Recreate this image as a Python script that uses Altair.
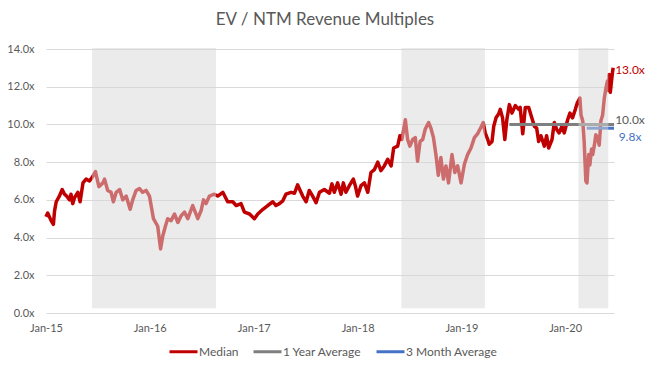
import altair as alt
import pandas as pd

# ---------------- data ----------------
median_dates = [
    "2015-01-01", "2015-01-07", "2015-01-19", "2015-01-27", "2015-01-31", "2015-02-06", "2015-02-17",
    "2015-02-27", "2015-03-07", "2015-03-15", "2015-03-25", "2015-03-30", "2015-04-05", "2015-04-11",
    "2015-04-23", "2015-05-01", "2015-05-11", "2015-05-22", "2015-06-03", "2015-06-15", "2015-06-24",
    "2015-07-06", "2015-07-20", "2015-07-26", "2015-08-06", "2015-08-18", "2015-08-26", "2015-09-05",
    "2015-09-17", "2015-09-28", "2015-10-10", "2015-10-24", "2015-11-02", "2015-11-14", "2015-11-26",
    "2015-12-07", "2015-12-19", "2015-12-31", "2016-01-14", "2016-01-29", "2016-02-08", "2016-02-16",
    "2016-02-25", "2016-03-04", "2016-03-16", "2016-03-28", "2016-04-09", "2016-04-20", "2016-05-02",
    "2016-05-14", "2016-05-31", "2016-06-18", "2016-06-30", "2016-07-08", "2016-07-17", "2016-07-29",
    "2016-08-15", "2016-08-27", "2016-09-14", "2016-10-01", "2016-10-19", "2016-10-31", "2016-11-17",
    "2016-11-29", "2016-12-17", "2017-01-03", "2017-01-15", "2017-02-02", "2017-02-19", "2017-03-09",
    "2017-03-20", "2017-04-01", "2017-04-13", "2017-04-24", "2017-05-12", "2017-05-24", "2017-06-04",
    "2017-06-13", "2017-06-22", "2017-07-04", "2017-07-15", "2017-07-27", "2017-08-08", "2017-08-20",
    "2017-09-06", "2017-09-24", "2017-10-03", "2017-10-11", "2017-10-23", "2017-11-04", "2017-11-12",
    "2017-11-21", "2017-12-03", "2017-12-17", "2017-12-24", "2018-01-01", "2018-01-13", "2018-01-25",
    "2018-02-06", "2018-02-17", "2018-03-01", "2018-03-13", "2018-03-24", "2018-04-05", "2018-04-17",
    "2018-04-29", "2018-05-08", "2018-05-22", "2018-05-30", "2018-06-06", "2018-06-18", "2018-06-26",
    "2018-07-04", "2018-07-14", "2018-07-23", "2018-07-31", "2018-08-09", "2018-08-18", "2018-08-27",
    "2018-09-08", "2018-09-16", "2018-09-25", "2018-10-04", "2018-10-12", "2018-10-21", "2018-10-30",
    "2018-11-08", "2018-11-17", "2018-11-29", "2018-12-09", "2018-12-19", "2018-12-31", "2019-01-12",
    "2019-01-23", "2019-02-04", "2019-02-16", "2019-02-27", "2019-03-11", "2019-03-19", "2019-03-26",
    "2019-04-04", "2019-04-09", "2019-04-19", "2019-04-25", "2019-05-03", "2019-05-12", "2019-05-18",
    "2019-05-26", "2019-06-03", "2019-06-10", "2019-06-19", "2019-06-28", "2019-07-10", "2019-07-22",
    "2019-07-27", "2019-08-05", "2019-08-14", "2019-08-26", "2019-09-04", "2019-09-15", "2019-09-23",
    "2019-09-30", "2019-10-08", "2019-10-20", "2019-10-28", "2019-11-04", "2019-11-16", "2019-11-24",
    "2019-12-02", "2019-12-11", "2019-12-21", "2019-12-29", "2020-01-10", "2020-01-18", "2020-01-27",
    "2020-02-06", "2020-02-13", "2020-02-22", "2020-02-26", "2020-03-03", "2020-03-08", "2020-03-14",
    "2020-03-18", "2020-03-24", "2020-03-28", "2020-04-03", "2020-04-07", "2020-04-13", "2020-04-18",
    "2020-04-24", "2020-04-30", "2020-05-06", "2020-05-12", "2020-05-18", "2020-05-24", "2020-05-29",
    "2020-06-02", "2020-06-04", "2020-06-08", "2020-06-13", "2020-06-16", "2020-06-18",
]
median_values = [
    5.1, 5.3, 4.9, 4.7, 5.4, 5.9, 6.2,
    6.55, 6.3, 6.2, 6.0, 6.3, 5.8, 6.1,
    6.4, 5.9, 6.9, 7.1, 7.0, 7.25, 7.5,
    6.7, 6.9, 7.1, 6.5, 6.4, 5.9, 6.4,
    6.55, 6.0, 6.2, 5.5, 6.0, 6.5, 6.6,
    6.4, 6.5, 6.2, 5.0, 4.6, 3.4, 4.1,
    4.6, 5.0, 4.9, 5.25, 4.8, 5.15, 5.35,
    5.0, 5.7, 5.0, 5.45, 6.0, 5.8, 6.2,
    6.3, 6.2, 6.4, 5.9, 5.9, 5.7, 5.8,
    5.35, 5.25, 5.0, 5.25, 5.5, 5.7, 5.9,
    5.7, 5.8, 5.95, 6.3, 6.4, 6.35, 6.8,
    6.5, 6.2, 5.9, 6.5, 6.2, 5.85, 6.4,
    6.55, 6.35, 6.85, 6.4, 6.9, 6.3, 6.9,
    6.4, 6.75, 7.1, 6.75, 6.2, 6.75, 6.9,
    6.4, 7.45, 7.6, 8.0, 7.55, 7.8, 8.15,
    7.8, 8.75, 8.85, 9.4, 9.2, 10.25, 9.2,
    8.85, 9.2, 9.3, 8.05, 9.1, 9.2, 9.75,
    10.1, 9.8, 9.3, 8.35, 7.3, 8.25, 7.1,
    7.8, 6.9, 8.4, 7.45, 7.8, 6.9, 7.9,
    8.4, 8.75, 9.3, 9.5, 9.85, 10.1, 9.55,
    9.2, 8.95, 9.1, 9.9, 10.35, 10.55, 10.8,
    10.35, 9.2, 10.25, 11.05, 10.6, 11.0, 10.8,
    10.9, 9.5, 10.9, 10.9, 10.45, 9.9, 9.8,
    9.1, 9.4, 8.85, 9.4, 8.75, 9.2, 10.1,
    9.75, 9.55, 9.9, 9.55, 10.25, 10.6, 10.35,
    10.8, 11.15, 11.4, 10.5, 10.2, 9.1, 7.0,
    6.9, 8.4, 7.85, 8.7, 8.4, 8.9, 9.45,
    9.3, 8.9, 10.2, 10.5, 11.4, 11.95, 12.3,
    11.8, 12.65, 11.7, 12.4, 12.8, 13.0,
]

series_names = ["Median", "1 Year Average", "3 Month Average"]
series_colors = ["#C00000", "#7F7F7F", "#4472C4"]
label_colors = ["#C00000", "#595959", "#4472C4"]

avg_names = ["1 Year Average", "3 Month Average"]
avg_starts = ["2019-06-19", "2020-03-17"]
avg_values = [10.0, 9.8]

shade_starts = ["2015-06-12", "2018-06-04", "2020-02-17"]
shade_ends = ["2016-08-21", "2019-03-25", "2020-06-01"]

x_start = "2015-01-01"
x_end = "2020-06-21"
tick_years = [2015, 2016, 2017, 2018, 2019, 2020]
y_ticks = [0, 2, 4, 6, 8, 10, 12, 14]

FONT = "Lato"
TXT = "#595959"

# ---------------- frames ----------------
med = pd.DataFrame({"date": median_dates, "value": median_values, "series": "Median"})
avg = pd.DataFrame({"series": avg_names, "start": avg_starts,
                    "end": [x_end] * len(avg_names), "value": avg_values})
shade = pd.DataFrame({"start": shade_starts, "end": shade_ends,
                      "lo": [0.25] * len(shade_starts), "hi": [14.05] * len(shade_starts)})
lab = pd.DataFrame({
    "date": [x_end] * 3,
    "value": [median_values[-1], avg_values[0], avg_values[1]],
    "label": [f"{median_values[-1]:.1f}x", f"{avg_values[0]:.1f}x", f"{avg_values[1]:.1f}x"],
    "color": label_colors,
    "key": series_names,
})

def dt(s):
    y, m, d = (int(p) for p in s.split("-"))
    return alt.DateTime(year=y, month=m, date=d, utc=True)

x_scale = alt.Scale(type="utc", domain=[dt(x_start), dt(x_end)])
y_scale = alt.Scale(domain=[0, 14], nice=False, zero=True)

color_scale = alt.Scale(domain=series_names, range=series_colors)

x_axis = alt.Axis(
    values=[alt.DateTime(year=y, month=1, date=1, utc=True) for y in tick_years],
    labelExpr="utcFormat(datum.value, '%b-%y')",
    grid=False, domain=False, ticks=False, labelPadding=9,
    labelFlush=False, labelOverlap=False, title=None,
    labelFont=FONT, labelFontSize=11, labelColor=TXT,
)
y_axis = alt.Axis(
    values=y_ticks, tickCount=len(y_ticks),
    labelExpr="format(datum.value, '.1f') + 'x'",
    grid=True, gridColor="#D9D9D9", gridWidth=1,
    domain=False, ticks=False, labelPadding=12, title=None,
    labelOverlap=False, labelFlush=False,
    labelFont=FONT, labelFontSize=11, labelColor=TXT,
)

legend = alt.Legend(
    title=None, orient="none", direction="horizontal",
    legendX=122, legendY=287,
    symbolType="stroke", symbolStrokeWidth=3, symbolSize=784,
    labelFont=FONT, labelFontSize=12, labelColor=TXT,
    labelOffset=0, columnPadding=8,
)

X = alt.X("date:T", scale=x_scale, axis=x_axis)
Y = alt.Y("value:Q", scale=y_scale, axis=y_axis)

line = alt.Chart(med).mark_line(strokeWidth=3.5, strokeJoin="round").encode(
    x=X,
    y=Y,
    color=alt.Color("series:N", scale=color_scale, legend=legend),
)

rules = alt.Chart(avg).mark_rule(strokeWidth=3).encode(
    x=alt.X("start:T", scale=x_scale, axis=x_axis),
    x2="end:T",
    y=Y,
    color=alt.Color("series:N", scale=color_scale, legend=legend),
)

shades = alt.Chart(shade).mark_rect(color="#D7D7D7", opacity=0.5).encode(
    x=alt.X("start:T", scale=x_scale, axis=x_axis),
    x2="end:T",
    y=alt.Y("lo:Q", scale=y_scale, axis=y_axis),
    y2="hi:Q",
)

def label_layer(key, dy):
    return alt.Chart(lab).transform_filter(alt.datum.key == key).mark_text(
        font=FONT, fontSize=12, align="center", baseline="middle", dx=16, dy=dy
    ).encode(
        x=X,
        y=Y,
        text="label:N",
        color=alt.Color("color:N", scale=None),
    )

chart = alt.layer(
    line, rules, shades,
    label_layer("Median", 2), label_layer("1 Year Average", -4), label_layer("3 Month Average", 9),
).properties(
    width=568,
    height=264,
    autosize=alt.AutoSizeParams(type="none"),
    padding={"left": 38, "top": 41, "right": 31, "bottom": 49},
    title=alt.TitleParams(
        "EV / NTM Revenue Multiples", font=FONT, fontSize=17, fontWeight="normal",
        color=TXT, anchor="middle", offset=14, dx=-5,
    ),
    background="white",
).configure_view(stroke=None)

chart.save("out.html", embed_options={"renderer": "svg", "actions": False})
